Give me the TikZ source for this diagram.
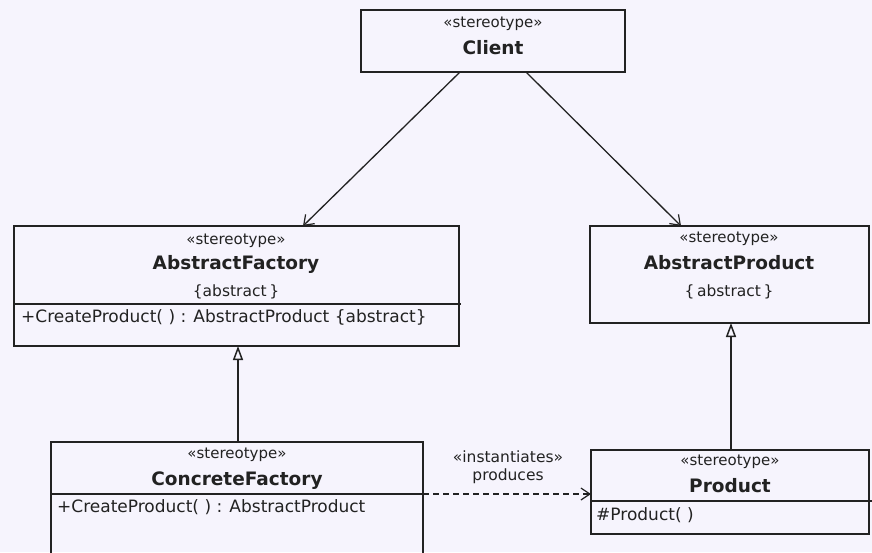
\documentclass[tikz,border=0pt]{standalone}
\usepackage{fontspec}
\setmainfont{DejaVu Sans}
\usetikzlibrary{arrows.meta}
\definecolor{bg}{RGB}{246,244,253}
\definecolor{ink}{RGB}{34,34,34}
\tikzset{
  cls/.style={draw=ink, line width=1.8pt, rectangle, inner sep=0pt, outer sep=0pt, anchor=north west},
  stereo/.style={anchor=base, inner sep=0pt, text=ink, font=\fontsize{15}{17}\selectfont},
  cname/.style={anchor=base, inner sep=0pt, text=ink, font=\fontsize{18.5}{20}\selectfont\bfseries},
  prop/.style={anchor=base, inner sep=0pt, text=ink, font=\fontsize{15.5}{17}\selectfont},
  meth/.style={anchor=base west, inner sep=0pt, text=ink, font=\fontsize{17}{19}\selectfont},
  sep/.style={draw=ink, line width=1.8pt},
  assoc/.style={draw=ink, line width=1.3pt, -{Straight Barb[length=9pt,width=13pt,line width=1.2pt]}},
  gen/.style={draw=ink, line width=1.8pt, -{Triangle[open,length=14pt,width=10pt,line width=1.5pt,fill=bg]}},
  dep/.style={draw=ink, line width=1.3pt, dash pattern=on 6pt off 4pt, -{Straight Barb[length=9pt,width=12pt,line width=1.2pt]}},
  lbl/.style={anchor=base, inner sep=0pt, text=ink, font=\fontsize{15.5}{17}\selectfont}
}
\begin{document}
\begin{tikzpicture}[x=1pt,y=-1pt]
\fill[bg] (0,0) rectangle (872,552);
\useasboundingbox (0,0) rectangle (872,552);
\clip (0,0) rectangle (872,552);

% Client
\node[cls, minimum width=264pt, minimum height=62pt] (client) at (361,10) {};
\node[stereo] (clientS) at (493,27) {«stereotype»};
\node[cname] (clientN) at (493,54) {Client};

% AbstractFactory
\node[cls, minimum width=445pt, minimum height=120pt] (af) at (14,226) {};
\node[stereo] (afS) at (236,244) {«stereotype»};
\node[cname] (afN) at (236,269) {AbstractFactory};
\node[prop] (afP) at (236,296) {\{abstract\,\}};
\draw[sep] (14,304) -- (461,304);
\node[meth] (afM) at (21,322) {+CreateProduct( ) : AbstractProduct \{abstract\}};

% AbstractProduct
\node[cls, minimum width=279pt, minimum height=97pt] (ap) at (590,226) {};
\node[stereo] (apS) at (729,242) {«stereotype»};
\node[cname] (apN) at (729,269) {AbstractProduct};
\node[prop] (apP) at (729,296) {\{\,abstract\,\}};

% ConcreteFactory
\node[cls, minimum width=372pt, minimum height=130pt] (cf) at (51,442) {};
\node[stereo] (cfS) at (237,458) {«stereotype»};
\node[cname] (cfN) at (237,485) {ConcreteFactory};
\draw[sep] (51,494) -- (425,494);
\node[meth] (cfM) at (57,512) {+CreateProduct( ) : AbstractProduct};

% Product
\node[cls, minimum width=278pt, minimum height=84pt] (prod) at (591,450) {};
\node[stereo] (prodS) at (730,465) {«stereotype»};
\node[cname] (prodN) at (730,492) {Product};
\draw[sep] (591,501) -- (872,501);
\node[meth] (prodM) at (596,520) {\#Product( )};

% Associations
\draw[assoc] ([xshift=99pt]client.south west) -- ([xshift=289pt]af.north west);
\draw[assoc] ([xshift=165pt]client.south west) -- ([xshift=91pt]ap.north west);

% Generalizations
\draw[gen] ([xshift=187pt]cf.north west) -- ([xshift=224pt]af.south west);
\draw[gen] ([xshift=140pt]prod.north west) -- ([xshift=141pt]ap.south west);

% Dependency
\draw[dep] ([yshift=-52pt]cf.north east) -- ([yshift=-44pt]prod.north west);
\node[lbl] (instL) at (508,462) {«instantiates»};
\node[lbl] (prodL) at (508,480) {produces};
\end{tikzpicture}
\end{document}
